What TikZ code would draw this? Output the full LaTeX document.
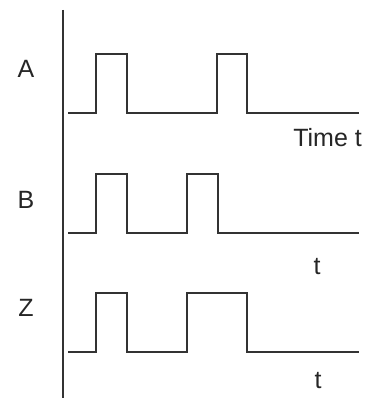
\documentclass[tikz,border=0pt]{standalone}
\usepackage{fontspec}
\setmainfont{Liberation Sans}
\begin{document}
\begin{tikzpicture}[x=1pt,y=-1pt,
  wave/.style={line width=1.3pt,draw=black!80},
  lbl/.style={font=\fontsize{25}{27}\selectfont,text=black!85,inner sep=0pt}]
\useasboundingbox (0,0) rectangle (364,401);
\fill[white] (0,0) rectangle (364,401);
% vertical axis
\draw[wave] (63,10) -- (63,398);
% A
\draw[wave] (68,113) -- (96,113) -- (96,54) -- (127,54) -- (127,113) -- (217,113) -- (217,54) -- (247,54) -- (247,113) -- (359,113);
% B
\draw[wave] (68,233) -- (96,233) -- (96,174) -- (127,174) -- (127,233) -- (187,233) -- (187,174) -- (218,174) -- (218,233) -- (359,233);
% Z
\draw[wave] (68,352) -- (96,352) -- (96,293) -- (127,293) -- (127,352) -- (187,352) -- (187,293) -- (247,293) -- (247,352) -- (359,352);
% labels
\node[lbl] (la) at (26,69) {A};
\node[lbl] (lb) at (26,200) {B};
\node[lbl] (lz) at (26,308) {Z};
\node[lbl,anchor=east] (tt) at (362,138) {Time t};
\node[lbl] (tb) at (317,267) {t};
\node[lbl] (tz) at (318,381) {t};
\end{tikzpicture}
\end{document}
